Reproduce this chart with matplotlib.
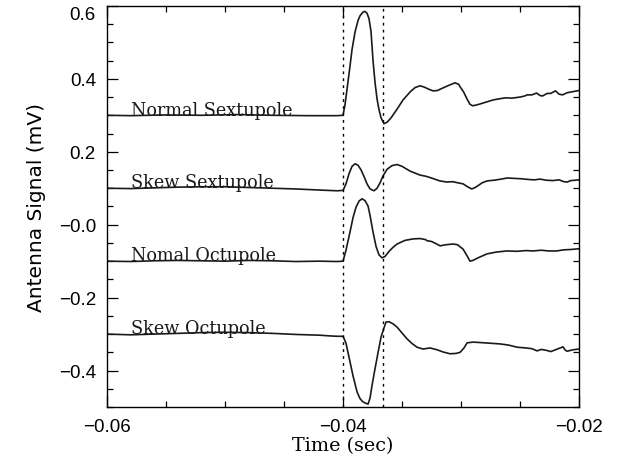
import numpy as np
import matplotlib
matplotlib.use("Agg")
import matplotlib.pyplot as plt
from matplotlib.ticker import MultipleLocator, FixedLocator

# ---- data (time in sec, signal in mV) ----
ns_t = [-0.060, -0.058, -0.055, -0.052, -0.049, -0.046, -0.043, -0.0405, -0.0400,
        -0.03983, -0.03966, -0.03941, -0.03924, -0.03898, -0.03873, -0.03856,
        -0.03831, -0.03814, -0.03797, -0.03780, -0.03763, -0.03746, -0.03729,
        -0.03712, -0.03695, -0.03678, -0.03653, -0.03627, -0.03593, -0.03542,
        -0.03492, -0.03432, -0.03390, -0.03347, -0.0331, -0.03263, -0.03237,
        -0.0320, -0.0314, -0.0309, -0.03051, -0.0302, -0.03008, -0.0298, -0.0295,
        -0.02924, -0.0290, -0.0285, -0.0278, -0.02729, -0.0268, -0.0262, -0.0257,
        -0.0250, -0.0246, -0.0244, -0.0240, -0.0236, -0.0233, -0.0231, -0.0227,
        -0.0224, -0.0220, -0.0217, -0.0214, -0.0210, -0.0205, -0.0200]
ns_v = [0.300, 0.299, 0.301, 0.300, 0.302, 0.300, 0.299, 0.299, 0.300,
        0.330, 0.372, 0.435, 0.480, 0.529, 0.560, 0.573,
        0.583, 0.585, 0.580, 0.565, 0.530, 0.450, 0.390,
        0.345, 0.315, 0.293, 0.277, 0.281, 0.293, 0.317,
        0.342, 0.364, 0.376, 0.381, 0.377, 0.370, 0.367,
        0.368, 0.377, 0.384, 0.389, 0.385, 0.378, 0.365, 0.345,
        0.330, 0.326, 0.330, 0.337, 0.342, 0.345, 0.348, 0.347,
        0.350, 0.353, 0.356, 0.356, 0.361, 0.354, 0.353, 0.360,
        0.360, 0.367, 0.358, 0.356, 0.362, 0.365, 0.368]

ss_t = [-0.060, -0.058, -0.056, -0.054, -0.052, -0.050, -0.048, -0.046, -0.044,
        -0.042, -0.0405, -0.0400, -0.03975, -0.03949, -0.03924, -0.03898,
        -0.03873, -0.03847, -0.03822, -0.03797, -0.03771, -0.03737, -0.03712,
        -0.03686, -0.03661, -0.03627, -0.03585, -0.03542, -0.03500, -0.03432,
        -0.03347, -0.0330, -0.0325, -0.0318, -0.0312, -0.0307, -0.0303, -0.02983,
        -0.0295, -0.0291, -0.0288, -0.0282, -0.0278, -0.0272, -0.0266, -0.0261,
        -0.0255, -0.0249, -0.0243, -0.0238, -0.0233, -0.0228, -0.0222, -0.0217,
        -0.0213, -0.0210, -0.0207, -0.0203, -0.0200]
ss_v = [0.100, 0.099, 0.101, 0.103, 0.104, 0.104, 0.102, 0.100, 0.098,
        0.095, 0.093, 0.094, 0.112, 0.140, 0.160, 0.167,
        0.163, 0.150, 0.132, 0.112, 0.098, 0.093, 0.100,
        0.115, 0.134, 0.152, 0.162, 0.165, 0.160, 0.147,
        0.136, 0.133, 0.128, 0.120, 0.117, 0.118, 0.115, 0.112,
        0.105, 0.098, 0.102, 0.115, 0.120, 0.122, 0.125, 0.128,
        0.127, 0.126, 0.124, 0.123, 0.125, 0.122, 0.121, 0.123,
        0.118, 0.117, 0.121, 0.122, 0.123]

no_t = [-0.060, -0.058, -0.056, -0.054, -0.052, -0.050, -0.048, -0.046, -0.044,
        -0.042, -0.0405, -0.0400, -0.03975, -0.03941, -0.03915, -0.03890,
        -0.03864, -0.03839, -0.03814, -0.03788, -0.03771, -0.03746, -0.03720,
        -0.03695, -0.03669, -0.03644, -0.03610, -0.03576, -0.03542, -0.03475,
        -0.03407, -0.03347, -0.0330, -0.03288, -0.0325, -0.0320, -0.03178,
        -0.0313, -0.03068, -0.0303, -0.02983, -0.0295, -0.02924, -0.0290,
        -0.0285, -0.0278, -0.0270, -0.0261, -0.0253, -0.0245, -0.0239, -0.0232,
        -0.0226, -0.0219, -0.0213, -0.0207, -0.0200]
no_v = [-0.100, -0.101, -0.099, -0.098, -0.099, -0.100, -0.098, -0.099, -0.101,
        -0.100, -0.101, -0.100, -0.070, -0.020, 0.020, 0.048,
        0.065, 0.071, 0.066, 0.051, 0.025, -0.020, -0.060,
        -0.083, -0.091, -0.087, -0.073, -0.062, -0.053, -0.043,
        -0.039, -0.038, -0.041, -0.044, -0.046, -0.054, -0.058,
        -0.055, -0.053, -0.055, -0.067, -0.085, -0.100, -0.098,
        -0.090, -0.080, -0.075, -0.072, -0.073, -0.071, -0.072, -0.070,
        -0.072, -0.072, -0.069, -0.068, -0.066]

so_t = [-0.060, -0.058, -0.056, -0.054, -0.052, -0.050, -0.048, -0.046, -0.044,
        -0.042, -0.0411, -0.0405, -0.0400, -0.03975, -0.03941, -0.03915,
        -0.03881, -0.03856, -0.03831, -0.03805, -0.03788, -0.03771, -0.03754,
        -0.03729, -0.03703, -0.03678, -0.03653, -0.03636, -0.03610, -0.03576,
        -0.03542, -0.03500, -0.03458, -0.03415, -0.03373, -0.03322, -0.03263,
        -0.03203, -0.03153, -0.03093, -0.03042, -0.03008, -0.02975, -0.02949,
        -0.02898, -0.0280, -0.02669, -0.0260, -0.02525, -0.0245, -0.0240,
        -0.02356, -0.0232, -0.02271, -0.0224, -0.0220, -0.02136, -0.0212,
        -0.02102, -0.0205, -0.0200]
so_v = [-0.300, -0.302, -0.300, -0.298, -0.296, -0.295, -0.296, -0.298, -0.301,
        -0.303, -0.305, -0.306, -0.306, -0.325, -0.376, -0.415,
        -0.459, -0.477, -0.486, -0.490, -0.492, -0.475, -0.440,
        -0.395, -0.350, -0.308, -0.283, -0.267, -0.266, -0.272,
        -0.281, -0.297, -0.313, -0.326, -0.336, -0.341, -0.338,
        -0.343, -0.349, -0.354, -0.353, -0.350, -0.338, -0.324,
        -0.322, -0.324, -0.327, -0.330, -0.336, -0.338, -0.340,
        -0.346, -0.342, -0.345, -0.348, -0.343, -0.335, -0.343,
        -0.347, -0.343, -0.341]

labels = ["Normal Sextupole", "Skew Sextupole", "Nomal Octupole", "Skew Octupole"]
offsets = [0.3, 0.1, -0.1, -0.3]
marker_times = [-0.0400, -0.0366]

xticks = [-0.06, -0.04, -0.02]
xticklabels = ["\u22120.06", "\u22120.04", "\u22120.02"]
yticks = [-0.4, -0.2, 0.0, 0.2, 0.4, 0.6]
yticklabels = ["\u22120.4", "\u22120.2", "\u22120.0", "0.2", "0.4", "0.6"]

fig = plt.figure(figsize=(6.24, 4.6), dpi=100)
ax = fig.add_axes([0.1715, 0.113, 0.7565, 0.872])

for t, v in [(ns_t, ns_v), (ss_t, ss_v), (no_t, no_v), (so_t, so_v)]:
    ax.plot(t, v, color="#1a1a1a", lw=1.2)

for xm in marker_times:
    ax.axvline(xm, color="black", lw=1.0, ls=(0, (2, 3)))

for lab, off in zip(labels, offsets):
    ax.text(-0.058, off + 0.002, lab, family="DejaVu Serif", fontsize=12.7,
            ha="left", va="baseline", color="#1a1a1a")

ax.set_xlim(-0.06, -0.02)
ax.set_ylim(-0.5, 0.6)
ax.xaxis.set_major_locator(FixedLocator(xticks))
ax.set_xticklabels(xticklabels)
ax.yaxis.set_major_locator(FixedLocator(yticks))
ax.set_yticklabels(yticklabels)
ax.xaxis.set_minor_locator(MultipleLocator(0.005))
ax.yaxis.set_minor_locator(MultipleLocator(0.05))
ax.tick_params(which="both", direction="in", top=True, right=True, width=0.9)
ax.tick_params(which="major", length=8, labelsize=13.5, pad=8)
ax.tick_params(which="minor", length=4)
for lbl in ax.get_xticklabels() + ax.get_yticklabels():
    lbl.set_family("Liberation Sans")
# top label sits just below the axis edge, as in the original
ax.get_yticklabels()[-1].set_va("top")
for sp in ax.spines.values():
    sp.set_linewidth(1.0)

ax.set_xlabel("Time (sec)", family="DejaVu Serif", fontsize=13.8, labelpad=1)
ax.set_ylabel("Antenna Signal (mV)", family="DejaVu Sans", fontsize=14.5, labelpad=9)

fig.savefig("out.png", dpi=100)
